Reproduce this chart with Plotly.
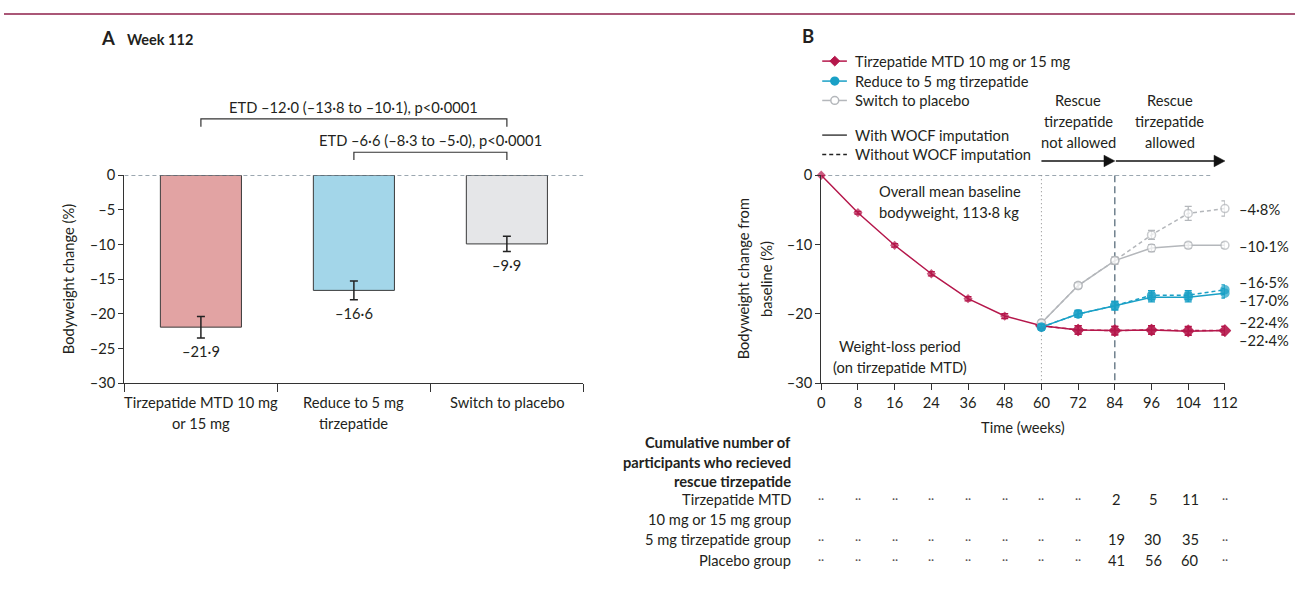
import plotly.graph_objects as go

W, H = 1308, 594
FONT = "Lato"
FS = 14.7
TXT = "#231f20"
AXC = "#333333"
RED = "#B5174B"
CYAN = "#1AA0C6"
GREY = "#B4B7BB"
ZEROC = "#4A6070"

# ---------------- Panel A data ----------------
groups_A = [["Tirzepatide MTD 10 mg", "or 15 mg"], ["Reduce to 5 mg", "tirzepatide"], ["Switch to placebo"]]
change_A = [-21.9, -16.6, -9.9]
err_A = [1.55, 1.35, 1.1]
value_labels_A = ["–21·9", "–16·6", "–9·9"]
bar_colors_A = ["#E2A3A3", "#A3D6E9", "#E5E6E8"]
yticks_A = [0, -5, -10, -15, -20, -25, -30]
yticktext_A = ["0", "–5", "–10", "–15", "–20", "–25", "–30"]
etd_texts = ["ETD –12·0 (–13·8 to –10·1), p<0·0001", "ETD –6·6 (–8·3 to –5·0), p<0·0001"]
etd_pairs = [(0, 2), (1, 2)]

# ---------------- Panel B data ----------------
weeks = ["0", "8", "16", "24", "36", "48", "60", "72", "84", "96", "104", "112"]
mtd_wocf = [0, -5.4, -10.1, -14.2, -17.8, -20.3, -21.7, -22.3, -22.4, -22.3, -22.5, -22.4]
mtd_wocf_err = [0, 0.2, 0.25, 0.3, 0.3, 0.35, 0.4, 0.6, 0.6, 0.6, 0.6, 0.6]
mtd_obs = [None, None, None, None, None, None, -21.7, -22.3, -22.4, -22.3, -22.4, -22.4]
mtd_obs_err = [None, None, None, None, None, None, 0.4, 0.6, 0.6, 0.6, 0.6, 0.6]
rd5_wocf = [None, None, None, None, None, None, -21.9, -20.0, -18.8, -17.6, -17.6, -17.0]
rd5_wocf_err = [None, None, None, None, None, None, 0.4, 0.5, 0.6, 0.65, 0.65, 0.7]
rd5_obs = [None, None, None, None, None, None, -21.9, -20.0, -18.8, -17.3, -17.3, -16.5]
rd5_obs_err = [None, None, None, None, None, None, 0.4, 0.5, 0.6, 0.65, 0.65, 0.7]
pbo_wocf = [None, None, None, None, None, None, -21.3, -15.9, -12.3, -10.5, -10.1, -10.1]
pbo_wocf_err = [None, None, None, None, None, None, 0.4, 0.4, 0.5, 0.5, 0.4, 0.4]
pbo_obs = [None, None, None, None, None, None, -21.3, -15.9, -12.3, -8.6, -5.5, -4.8]
pbo_obs_err = [None, None, None, None, None, None, 0.4, 0.4, 0.5, 0.65, 1.0, 1.1]
yticks_B = [0, -10, -20, -30]
yticktext_B = ["0", "–10", "–20", "–30"]
end_labels = ["–4·8%", "–10·1%", "–16·5%", "–17·0%", "–22·4%", "–22·4%"]
end_values = [-4.8, -10.1, -16.5, -17.0, -22.4, -22.4]
end_label_shift = [0, -1, 7.2, -7.2, 9, -9]

legend_series = ["Tirzepatide MTD 10 mg or 15 mg", "Reduce to 5 mg tirzepatide", "Switch to placebo"]
legend_styles = ["With WOCF imputation", "Without WOCF imputation"]

table_head = ["Cumulative number of", "participants who recieved", "rescue tirzepatide"]
table_rows = [["Tirzepatide MTD", "10 mg or 15 mg group"], ["5 mg tirzepatide group"], ["Placebo group"]]
rescue_mtd = [None, None, None, None, None, None, None, None, 2, 5, 11, None]
rescue_5mg = [None, None, None, None, None, None, None, None, 19, 30, 35, None]
rescue_pbo = [None, None, None, None, None, None, None, None, 41, 56, 60, None]

# ---------------- layout geometry (pixels) ----------------
A_X0, A_X1 = 122, 587
B_X0, B_X1 = 828, 1237
Y_TOP, Y_BOT = 170.4, 385.0
px = lambda x: x / W
py = lambda y: 1 - y / H
nB = len(weeks) - 1


def xA(i):
    return A_X0 + (i + 0.5) / 3 * (A_X1 - A_X0)


def xB(i):
    return B_X0 + i / nB * (B_X1 - B_X0)


fig = go.Figure()

# Panel A bars
fig.add_trace(go.Bar(
    x=[0, 1, 2], y=change_A, width=0.53,
    marker=dict(color=bar_colors_A, line=dict(color="#3a3a3a", width=1)),
    error_y=dict(type="data", array=err_A, color="#222", thickness=1.5, width=4),
    xaxis="x", yaxis="y", showlegend=False, hoverinfo="skip"))

marker_sizes = [5.5 if int(w) < 60 else 8 for w in weeks]


def line_trace(y, err, color, dash, symbol, fill):
    return go.Scatter(
        x=weeks, y=y, mode="lines+markers", xaxis="x2", yaxis="y2",
        line=dict(color=color, width=1.5, dash=dash),
        marker=dict(symbol=symbol, size=marker_sizes, color=fill, line=dict(color=color, width=1.5)),
        error_y=dict(type="data", array=err, color=color, thickness=1.3, width=3.5),
        cliponaxis=False, showlegend=False, hoverinfo="skip", connectgaps=False)


fig.add_trace(line_trace(mtd_obs, mtd_obs_err, RED, "4px,3px", "diamond", RED))
fig.add_trace(line_trace(mtd_wocf, mtd_wocf_err, RED, "solid", "diamond", RED))
fig.add_trace(line_trace(pbo_obs, pbo_obs_err, GREY, "4px,3px", "circle", "white"))
fig.add_trace(line_trace(pbo_wocf, pbo_wocf_err, GREY, "solid", "circle", "white"))
fig.add_trace(line_trace(rd5_obs, rd5_obs_err, CYAN, "4px,3px", "circle", CYAN))
fig.add_trace(line_trace(rd5_wocf, rd5_wocf_err, CYAN, "solid", "circle", CYAN))

shapes = []
ann = []


def text(t, x, y, size=FS, anchor="center", color=TXT, angle=0):
    ann.append(dict(text=t, x=px(x), y=py(y), xref="paper", yref="paper", xanchor=anchor,
                    yanchor="middle", showarrow=False, textangle=angle,
                    font=dict(family=FONT, size=size, color=color)))


def pline(x0, y0, x1, y1, color=AXC, width=1.2, dash="solid"):
    shapes.append(dict(type="line", xref="paper", yref="paper", x0=px(x0), y0=py(y0),
                       x1=px(x1), y1=py(y1), line=dict(color=color, width=width, dash=dash)))


def ppath(pts, color, fill=None, width=1.2):
    d = "M " + " L ".join(f"{px(a):.5f},{py(b):.5f}" for a, b in pts)
    if fill:
        d += " Z"
    shapes.append(dict(type="path", xref="paper", yref="paper", path=d,
                       line=dict(color=color, width=width), fillcolor=fill or "rgba(0,0,0,0)"))


def pcircle(cx, cy, r, color, fill, width=1.5):
    shapes.append(dict(type="circle", xref="paper", yref="paper", x0=px(cx - r), x1=px(cx + r),
                       y0=py(cy + r), y1=py(cy - r), line=dict(color=color, width=width), fillcolor=fill))


# top rule
pline(0, 4, W, 4, color="#8E1F4A", width=1.5)

# titles
text("<b>A</b>", 96, 29, size=18.5, anchor="left")
text("<b>Week 112</b>", 123, 30, size=14.5, anchor="left")
text("<b>B</b>", 806, 27, size=18.5, anchor="left")

# ---- Panel A extras ----
shapes.append(dict(type="line", xref="x", yref="y", x0=-0.5, x1=2.5, y0=0, y1=0,
                   line=dict(color=ZEROC, width=1, dash="4px,3px"), layer="above"))
for i, lab in enumerate(value_labels_A):
    ann.append(dict(text=lab, x=i, y=change_A[i] - err_A[i], xref="x", yref="y", yshift=-13,
                    xanchor="center", yanchor="middle", showarrow=False,
                    font=dict(family=FONT, size=FS, color=TXT)))
for i, lines in enumerate(groups_A):
    for k, ln in enumerate(lines):
        text(ln, xA(i), 404 + 21.5 * k)
text("Bodyweight change (%)", 65, 277.5, angle=-90)
bracket_y = [112.3, 146.7]
text_y = [100, 134]
for (a, b), t, by, ty in zip(etd_pairs, etd_texts, bracket_y, text_y):
    ppath([(xA(a), by + 8), (xA(a), by), (xA(b), by), (xA(b), by + 8)], AXC, width=1.2)
    text(t, (xA(a) + xA(b)) / 2, ty)

# ---- Panel B extras ----
shapes.append(dict(type="line", xref="x2", yref="y2", x0=0, x1=10.62, y0=0, y1=0,
                   line=dict(color=ZEROC, width=1, dash="4px,3px"), layer="below"))
shapes.append(dict(type="line", xref="x2", yref="y2", x0=6, x1=6, y0=0, y1=-30,
                   line=dict(color="#888", width=1, dash="1px,3px"), layer="below"))
shapes.append(dict(type="line", xref="x2", yref="y2", x0=8, x1=8, y0=0, y1=-30,
                   line=dict(color=ZEROC, width=1.2, dash="7px,4px"), layer="below"))

# arrows
ay = 155.7
pline(xB(6), ay, xB(8) - 9, ay, color="#111", width=1.5)
ppath([(xB(8) - 11, ay - 6), (xB(8), ay), (xB(8) - 11, ay + 6)], "#111", fill="#111", width=0.5)
pline(xB(8) + 1, ay, xB(11) - 9, ay, color="#111", width=1.5)
ppath([(xB(11) - 11, ay - 6), (xB(11), ay), (xB(11) - 11, ay + 6)], "#111", fill="#111", width=0.5)
for k, ln in enumerate(["Rescue", "tirzepatide", "not allowed"]):
    text(ln, (xB(6) + xB(8)) / 2, 93.3 + 21.2 * k)
for k, ln in enumerate(["Rescue", "tirzepatide", "allowed"]):
    text(ln, (xB(8) + xB(11)) / 2, 93.3 + 21.2 * k)

text("Overall mean baseline", 885, 186.7, anchor="left")
text("bodyweight, 113·8 kg", 885, 208.3, anchor="left")
text("Weight-loss period", 908, 346.7)
text("(on tirzepatide MTD)", 908, 368.3)

for lab, v, s in zip(end_labels, end_values, end_label_shift):
    ann.append(dict(text=lab, x=nB, y=v, xref="x2", yref="y2", xshift=13, yshift=s,
                    xanchor="left", yanchor="middle", showarrow=False, borderpad=0,
                    font=dict(family=FONT, size=FS, color=TXT)))

text("Bodyweight change from", 749, 277.5, angle=-90)
text("baseline (%)", 772, 277.5, angle=-90)
text("Time (weeks)", (B_X0 + B_X1) / 2, 430)

# legend
leg_y = [52.7, 73.3, 93.3]
leg_col = [RED, CYAN, GREY]
for k, (lab, y, c) in enumerate(zip(legend_series, leg_y, leg_col)):
    pline(829, y, 854, y, color=c, width=1.5)
    if k == 0:
        ppath([(841.7, y - 5), (846.7, y), (841.7, y + 5), (836.7, y)], c, fill=c, width=1)
    elif k == 1:
        pcircle(841.7, y, 4, c, c)
    else:
        pcircle(841.7, y, 4, c, "white")
    text(lab, 860, y, anchor="left")
sty_y = [129, 149]
for lab, y, d in zip(legend_styles, sty_y, ["solid", "4px,3px"]):
    pline(829, y, 854, y, color="#222", width=1.3, dash=d)
    text(lab, 860, y, anchor="left")

# table
for k, ln in enumerate(table_head):
    text(f"<b>{ln}</b>", 799, 446 + 20 * k, anchor="right")
row_y = [504, 546, 567]
for lines, y in zip(table_rows, row_y):
    for k, ln in enumerate(lines):
        text(ln, 799, y + 20.5 * k, anchor="right")
for vals, y in zip([rescue_mtd, rescue_5mg, rescue_pbo], row_y):
    for i, v in enumerate(vals):
        if v is None:
            text("··", xB(i), y, size=12, color="#555")
        else:
            text(str(v), xB(i) + 2, y)

axis_common = dict(showgrid=False, zeroline=False, showline=True, linecolor=AXC, linewidth=1.2,
                   ticks="outside", tickcolor=AXC, tickwidth=1.2,
                   tickfont=dict(family=FONT, size=FS, color=TXT), fixedrange=True)

fig.update_layout(
    width=W, height=H, autosize=False,
    margin=dict(l=0, r=0, t=0, b=0),
    paper_bgcolor="white", plot_bgcolor="rgba(0,0,0,0)",
    font=dict(family=FONT, size=FS, color=TXT),
    showlegend=False,
    xaxis=dict(domain=[px(A_X0), px(A_X1)], range=[-0.5, 2.5], tickvals=[-0.5, 0.5, 1.5, 2.5],
               showticklabels=False, ticklen=8, anchor="y", **axis_common),
    yaxis=dict(domain=[py(Y_BOT), py(Y_TOP)], range=[-30, 0], tickvals=yticks_A, ticktext=yticktext_A,
               ticklen=5, anchor="x", **axis_common),
    xaxis2=dict(domain=[px(B_X0), px(B_X1)], type="category", categoryorder="array", categoryarray=weeks,
                range=[0, nB], ticklen=6, anchor="y2", **axis_common),
    yaxis2=dict(domain=[py(Y_BOT), py(Y_TOP)], range=[-30, 0], tickvals=yticks_B, ticktext=yticktext_B,
                ticklen=5, anchor="x2", **axis_common),
    shapes=shapes, annotations=ann,
)

fig.write_html("out.html")
